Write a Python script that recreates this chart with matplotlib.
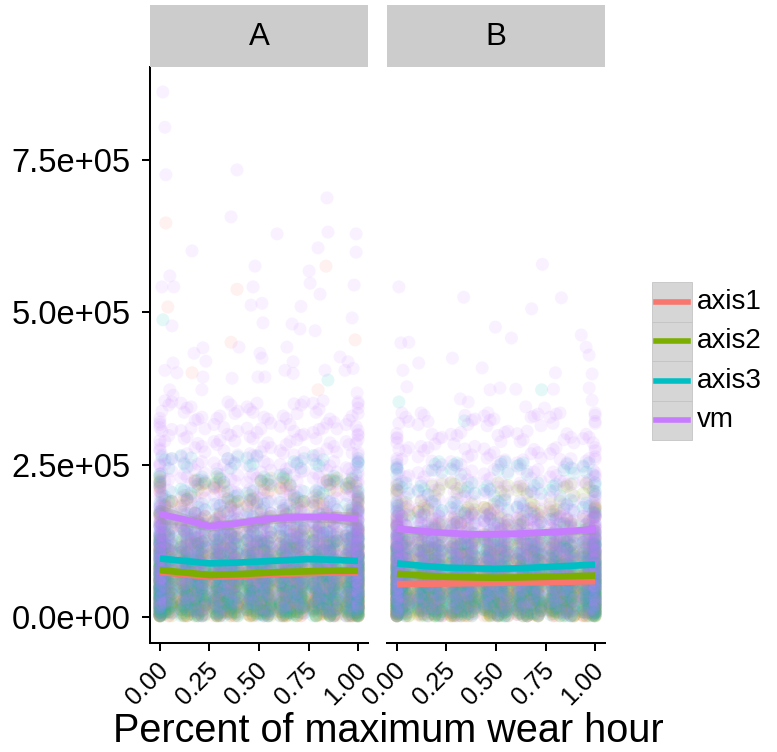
import numpy as np
import matplotlib.pyplot as plt
from matplotlib.colors import to_rgba
from matplotlib.patches import Rectangle
from matplotlib.lines import Line2D
from matplotlib.transforms import ScaledTranslation

plt.rcParams['font.family'] = ['Liberation Sans', 'DejaVu Sans']

# --- data (values in thousands of counts) ---
series = ["axis1", "axis2", "axis3", "vm"]
colors = {"axis1": "#F8766D", "axis2": "#7CAE00", "axis3": "#00BFC4", "vm": "#C77CFF"}
panels = ["A", "B"]

columns = [0.0, 0.167, 0.333, 0.5, 0.667, 0.833, 1.0]
# position jitter (x in axis units, y in thousands)
jitter_x = [-0.06, 0.01, -0.03, 0.045, -0.01, 0.06, -0.045, 0.025]
jitter_y = [0, -9, 6, -4, 10, -7, 3, 8, -11, 5, -2]

cloud_A = {
    "axis1": [2, 5, 8, 11, 14, 17, 20, 23, 26, 29, 32, 35, 38, 42, 45, 49, 52, 56, 59, 63, 66, 70, 74,
              78, 82, 87, 91, 96, 101, 106, 112, 118, 125, 140, 160, 185, 215],
    "axis2": [3, 6, 9, 12, 15, 18, 21, 24, 27, 30, 33, 36, 40, 43, 47, 50, 54, 57, 61, 65, 68, 72, 76,
              80, 84, 88, 93, 98, 103, 109, 115, 121, 128, 145, 165, 190, 220],
    "axis3": [4, 8, 12, 16, 20, 24, 28, 32, 35, 39, 42, 46, 50, 54, 58, 62, 65, 69, 72, 76, 80, 84, 88,
              92, 95, 100, 105, 110, 115, 120, 125, 130, 135, 142, 150, 165, 180, 200, 225, 255],
    "vm": [10, 18, 25, 32, 40, 47, 54, 60, 66, 72, 78, 84, 90, 95, 100, 105, 110, 115, 120, 125, 130,
           135, 140, 145, 150, 155, 160, 165, 170, 180, 190, 200, 215, 230, 245, 260, 280, 300, 320, 345],
}
cloud_B = {
    "axis1": [2, 5, 8, 11, 14, 17, 20, 23, 26, 29, 32, 35, 38, 41, 44, 48, 51, 54, 58, 62, 66, 70, 74,
              79, 84, 89, 94, 99, 105, 111, 118, 126, 145, 170],
    "axis2": [3, 6, 9, 12, 15, 18, 21, 24, 27, 30, 33, 36, 39, 43, 46, 50, 53, 57, 60, 64, 68, 72, 76,
              80, 85, 90, 95, 101, 108, 115, 122, 135, 155, 180, 210],
    "axis3": [4, 8, 12, 16, 20, 24, 28, 31, 35, 38, 42, 45, 49, 52, 56, 59, 63, 66, 70, 74, 78, 82, 86,
              90, 95, 100, 105, 110, 115, 120, 126, 132, 146, 162, 182, 210, 245],
    "vm": [8, 15, 22, 29, 36, 43, 50, 56, 62, 68, 74, 80, 85, 90, 95, 100, 105, 110, 115, 120, 125, 130,
           135, 140, 145, 150, 155, 160, 166, 172, 185, 200, 215, 232, 250, 270, 295, 325],
}

# sparse high values: x, value, series
outliers_A_x = [0.015, 0.025, 0.03, 0.03, 0.389, 0.843, 0.359, 0.591, 0.848, 0.99, 0.162, 0.798, 0.99,
                0.05, 0.48, 0.753, 0.838, 0.01, 0.07, 0.389, 0.47, 0.758, 0.808, 0.98, 0.04, 0.46, 0.515,
                0.712, 0.015, 0.061, 0.52, 0.667, 0.707, 0.783, 0.97, 0.359, 0.399, 0.172, 0.217, 0.232,
                0.505, 0.515, 0.641, 0.672, 0.909, 0.949, 0.985, 0.066, 0.025, 0.086, 0.162, 0.217, 0.364,
                0.495, 0.53, 0.631, 0.672, 0.833, 0.848, 0.934, 0.975, 0.05, 0.066, 0.212, 0.798, 0.995]
outliers_A_y = [862, 804, 726, 647, 734, 688, 657, 629, 632, 629, 601, 606, 599,
                560, 576, 568, 576, 542, 542, 538, 542, 548, 530, 545, 509, 512, 515,
                510, 488, 478, 483, 481, 473, 470, 491, 451, 443, 433, 442, 420,
                433, 425, 443, 419, 427, 419, 455, 417, 405, 401, 401, 394, 392,
                394, 394, 405, 400, 405, 389, 405, 408, 373, 364, 373, 373, 368]
outliers_A_s = ["vm", "vm", "vm", "axis1", "vm", "vm", "vm", "vm", "vm", "vm", "vm", "vm", "vm",
                "vm", "vm", "vm", "axis1", "vm", "vm", "axis1", "vm", "vm", "vm", "vm", "axis1", "vm", "vm",
                "vm", "axis3", "vm", "vm", "vm", "vm", "vm", "vm", "axis1", "vm", "vm", "vm", "vm",
                "vm", "vm", "vm", "vm", "vm", "vm", "axis1", "vm", "vm", "vm", "axis1", "vm", "vm",
                "vm", "vm", "vm", "vm", "vm", "axis3", "vm", "vm", "vm", "vm", "vm", "axis1", "vm"]

outliers_B_x = [0.01, 0.337, 0.734, 0.83, 0.68, 0.497, 0.578, 0.93, 0.02, 0.06, 0.11, 0.28, 0.43,
                0.955, 0.97, 0.985, 0.80, 0.03, 0.05, 0.47, 0.52, 0.60, 0.73, 0.79, 0.01, 0.32, 0.36,
                0.46, 0.65, 0.745, 0.34, 0.97, 0.985]
outliers_B_y = [542, 525, 579, 524, 506, 476, 458, 463, 450, 451, 417, 425, 409,
                443, 430, 399, 401, 405, 378, 373, 376, 374, 373, 374, 353, 358, 353,
                335, 345, 343, 322, 376, 356]
outliers_B_s = ["vm", "vm", "vm", "vm", "vm", "vm", "vm", "vm", "vm", "vm", "vm", "vm", "vm",
                "vm", "vm", "vm", "vm", "vm", "vm", "vm", "vm", "vm", "axis3", "vm", "axis3", "vm", "vm",
                "vm", "vm", "vm", "axis3", "vm", "vm"]

# smoothed means and standard-error half widths
smooth_x = [0.0, 0.125, 0.25, 0.375, 0.5, 0.625, 0.75, 0.875, 1.0]
smooth_A = {
    "axis1": [74, 70, 66, 67, 69, 71, 72, 73, 73],
    "axis2": [77, 73, 69, 70, 72, 74, 75, 76, 76],
    "axis3": [96, 92, 88, 89, 91, 93, 95, 94, 92],
    "vm": [169, 160, 149, 153, 159, 163, 164, 164, 161],
}
smooth_B = {
    "axis1": [54, 54.5, 55, 55.5, 56, 56.5, 57.5, 58, 59],
    "axis2": [71, 68, 66, 65, 64.5, 65, 66, 67, 68],
    "axis3": [88, 84, 81, 80, 79, 80, 82, 84, 86],
    "vm": [145, 141, 138, 136, 136, 137, 139, 141, 144],
}
se_A = {
    "axis1": [6, 4, 3.5, 3.5, 3.5, 3.5, 3.5, 4, 6],
    "axis2": [6, 4, 3.5, 3.5, 3.5, 3.5, 3.5, 4, 6],
    "axis3": [6, 4, 3.5, 3.5, 3.5, 3.5, 3.5, 4, 6],
    "vm": [16, 10, 8, 8, 8, 8, 8, 9, 12],
}
se_B = {
    "axis1": [5, 3.5, 3, 3, 3, 3, 3, 3.5, 5],
    "axis2": [5, 3.5, 3, 3, 3, 3, 3, 3.5, 5],
    "axis3": [5, 3.5, 3, 3, 3, 3, 3, 3.5, 5],
    "vm": [8, 6, 5, 5, 5, 5, 5, 6, 8],
}

y_ticks = [0, 250000, 500000, 750000]
y_labels = ["0.0e+00", "2.5e+05", "5.0e+05", "7.5e+05"]
x_ticks = [0.0, 0.25, 0.5, 0.75, 1.0]
x_labels = ["0.00", "0.25", "0.50", "0.75", "1.00"]

data = {
    "A": (cloud_A, outliers_A_x, outliers_A_y, outliers_A_s, smooth_A, se_A),
    "B": (cloud_B, outliers_B_x, outliers_B_y, outliers_B_s, smooth_B, se_B),
}

W, H = 777, 752
fig = plt.figure(figsize=(W / 100, H / 100), dpi=100)


def px_box(x0, y0, x1, y1):
    return [x0 / W, 1 - y1 / H, (x1 - x0) / W, (y1 - y0) / H]


POINT_ALPHA = 0.1
CLOUD_ALPHA = 0.11
lw_axis = 1.45

for p, (x0, x1) in zip(panels, [(150, 368), (387, 605)]):
    ax = fig.add_axes(px_box(x0, 67, x1, 643))
    cloud, ox, oy, os_, smooth, se = data[p]

    # jittered cloud, rows grouped by series (long format), vm drawn last
    xs, ys, cs = [], [], []
    cnt = 0
    for s in series:
        for x, y, s2 in zip(ox, oy, os_):
            if s2 == s:
                xs.append(x)
                ys.append(y * 1000)
                cs.append(to_rgba(colors[s], POINT_ALPHA))
        for k, cx in enumerate(columns):
            for i, v in enumerate(cloud[s]):
                for rep in (0, 2, 4, 6):
                    xs.append(np.clip(cx + jitter_x[(i + 3 * k + rep) % len(jitter_x)], 0, 1))
                    ys.append(max(v + jitter_y[cnt % len(jitter_y)], 2) * 1000)
                    cs.append(to_rgba(colors[s], CLOUD_ALPHA))
                    cnt += 1
    ax.scatter(xs, ys, s=88, c=cs, linewidths=0, zorder=1)

    sx = np.array(smooth_x)
    for s in series:
        m = np.array(smooth[s]) * 1000
        e = np.array(se[s]) * 1000
        ax.fill_between(sx, m - e, m + e, color="#999999", alpha=0.4, linewidth=0, zorder=2)
        ax.plot(sx, m, color=colors[s], lw=4.8, solid_capstyle="butt", zorder=3)

    ax.set_xlim(-0.05, 1.05)
    ax.set_ylim(-42700, 903000)
    ax.set_facecolor("none")
    for side in ["top", "right"]:
        ax.spines[side].set_visible(False)
    ax.spines["bottom"].set_linewidth(lw_axis)
    ax.spines["left"].set_linewidth(lw_axis)
    ax.set_xticks(x_ticks)
    ax.tick_params(axis="x", length=6, width=lw_axis, pad=6)
    ax.set_xticklabels(x_labels, rotation=45, ha="right", va="center",
                       rotation_mode="anchor", fontsize=18)
    shift = ScaledTranslation(5 / 100, -7 / 100, fig.dpi_scale_trans)
    for lab in ax.get_xticklabels():
        lab.set_transform(lab.get_transform() + shift)
    if p == "A":
        ax.set_yticks(y_ticks)
        ax.set_yticklabels(y_labels, fontsize=23.5)
        ax.tick_params(axis="y", length=6, width=lw_axis, pad=8)
    else:
        ax.spines["left"].set_visible(False)
        ax.set_yticks([])

# overlay in pixel coordinates for strips, legend and title
ov = fig.add_axes([0, 0, 1, 1], zorder=5)
ov.set_xlim(0, W)
ov.set_ylim(H, 0)
ov.axis("off")
ov.patch.set_alpha(0)

for p, (x0, x1) in zip(panels, [(150, 368), (387, 605)]):
    ov.add_patch(Rectangle((x0, 5), x1 - x0, 62, facecolor="#CCCCCC", edgecolor="none"))
    ov.text((x0 + x1) / 2, 37, p, ha="center", va="center", fontsize=22.5)

ov.text(388, 731, "Percent of maximum wear hour", ha="center", va="center", fontsize=28.5)

key_h = 39.5
for i, s in enumerate(series):
    top = 282 + i * key_h
    ov.add_patch(Rectangle((652, top), 40, key_h, facecolor="#D6D6D6", edgecolor="#C4C4C4", lw=0.6))
    cy = top + key_h / 2
    ov.add_line(Line2D([656, 688], [cy, cy], color=colors[s], lw=4))
    ov.text(697, cy, s, ha="left", va="center", fontsize=20)

fig.savefig("out.png", dpi=100)
